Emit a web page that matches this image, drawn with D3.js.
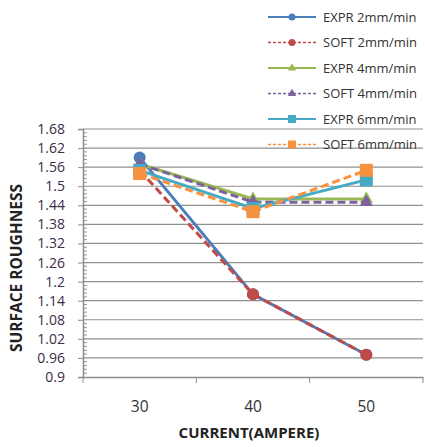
<!DOCTYPE html>
<html>
<head>
<meta charset="utf-8">
<script src="https://cdn.jsdelivr.net/npm/d3@7"></script>
<style>
  body { margin: 0; background: #fff; }
  svg text { font-family: "Open Sans", "Liberation Sans", sans-serif; }
</style>
</head>
<body>
<div id="chart"></div>
<script>
// chart data
let categories = ["30", "40", "50"];
let yTicks = [0.9, 0.96, 1.02, 1.08, 1.14, 1.2, 1.26, 1.32, 1.38, 1.44, 1.5, 1.56, 1.62, 1.68];

let seriesNames = ["EXPR 2mm/min", "SOFT 2mm/min", "EXPR 4mm/min", "SOFT 4mm/min", "EXPR 6mm/min", "SOFT 6mm/min"];
let expr2 = [1.59, 1.16, 0.97];
let soft2 = [1.55, 1.16, 0.97];
let expr4 = [1.57, 1.46, 1.46];
let soft4 = [1.57, 1.45, 1.45];
let expr6 = [1.55, 1.43, 1.52];
let soft6 = [1.54, 1.42, 1.55];

let seriesValues = [expr2, soft2, expr4, soft4, expr6, soft6];
let seriesColors = ["#4a7ebb", "#be4b48", "#98b954", "#7d60a0", "#46aac5", "#f69240"];
let seriesDash = [null, "8,4", null, "8,4", null, "8,4"];
let seriesMarker = ["circle", "circle", "triangle", "triangle", "square", "square"];

let series = seriesNames.map((name, i) => ({
    name: name,
    values: seriesValues[i],
    color: seriesColors[i],
    dash: seriesDash[i],
    marker: seriesMarker[i]
}));

let width = 425, height = 447;
let margin = {top: 129, right: 2, bottom: 70, left: 83};

let svg = d3.select("#chart").append("svg")
    .attr("width", width)
    .attr("height", height);

let x = d3.scaleBand()
    .domain(categories)
    .range([margin.left, width - margin.right]);

let y = d3.scaleLinear()
    .domain([0.9, 1.68])
    .range([height - margin.bottom, margin.top]);

// gridlines
svg.append("g")
    .selectAll("line")
    .data(yTicks.slice(1))
    .enter()
    .append("line")
    .attr("x1", margin.left)
    .attr("x2", width - margin.right)
    .attr("y1", d => y(d))
    .attr("y2", d => y(d))
    .attr("stroke", "#8f8f8f")
    .attr("stroke-width", 1.2);

// minor ticks on y axis
let minorTicks = [];
for (let i = 0; i < yTicks.length - 1; i++) {
    for (let k = 1; k < 5; k++) minorTicks.push(yTicks[i] + k * 0.012);
}
svg.append("g")
    .selectAll("line")
    .data(minorTicks)
    .enter()
    .append("line")
    .attr("x1", margin.left)
    .attr("x2", margin.left + 4)
    .attr("y1", d => y(d))
    .attr("y2", d => y(d))
    .attr("stroke", "#9a9a9a");

// y axis
let yAxis = svg.append("g")
    .attr("transform", `translate(${margin.left},0)`)
    .call(d3.axisLeft(y).tickValues(yTicks).tickSize(5).tickPadding(13)
        .tickFormat(d => d3.format("")(+d.toFixed(2))));
yAxis.select(".domain").attr("stroke", "#8c8c8c").attr("stroke-width", 1.5);
yAxis.selectAll(".tick line").attr("stroke", "#8c8c8c");
yAxis.selectAll("text")
    .attr("font-family", "Liberation Sans, sans-serif")
    .attr("font-size", 14)
    .attr("fill", "#3a2d4a");

// x axis
let xAxis = svg.append("g")
    .attr("transform", `translate(0,${height - margin.bottom})`)
    .call(d3.axisBottom(x).tickSize(0).tickPadding(24));
xAxis.select(".domain").attr("stroke", "#8c8c8c").attr("stroke-width", 1.5);
xAxis.selectAll("text")
    .attr("font-size", 15.5)
    .attr("fill", "#333");

// x ticks between categories
svg.append("g")
    .selectAll("line")
    .data(categories.concat(["end"]))
    .enter()
    .append("line")
    .attr("x1", (d, i) => i < categories.length ? x(d) : x(categories[i - 1]) + x.bandwidth())
    .attr("x2", (d, i) => i < categories.length ? x(d) : x(categories[i - 1]) + x.bandwidth())
    .attr("y1", height - margin.bottom)
    .attr("y2", height - margin.bottom + 6)
    .attr("stroke", "#8c8c8c");

// axis titles
svg.append("text")
    .attr("x", 249)
    .attr("y", 438)
    .attr("text-anchor", "middle")
    .attr("font-size", 15)
    .attr("font-weight", "bold")
    .attr("fill", "#222")
    .text("CURRENT(AMPERE)");

svg.append("text")
    .attr("transform", `translate(22,268) rotate(-90)`)
    .attr("text-anchor", "middle")
    .attr("font-size", 15.5)
    .attr("font-weight", "bold")
    .attr("fill", "#222")
    .text("SURFACE ROUGHNESS");

let line = d3.line()
    .x((d, i) => x(categories[i]) + x.bandwidth() / 2)
    .y(d => y(d));

function drawMarker(g, s, cx, cy) {
    if (s.marker === "circle") {
        g.append("circle").attr("cx", cx).attr("cy", cy).attr("r", 6).attr("fill", s.color);
    } else if (s.marker === "triangle") {
        g.append("path")
            .attr("d", d3.symbol(d3.symbolTriangle, 75)())
            .attr("transform", `translate(${cx},${cy})`)
            .attr("fill", s.color);
    } else {
        g.append("rect").attr("x", cx - 6.5).attr("y", cy - 6.5)
            .attr("width", 13).attr("height", 13).attr("fill", s.color);
    }
}

// series lines and markers
series.forEach(s => {
    let g = svg.append("g");
    g.append("path")
        .attr("d", line(s.values))
        .attr("fill", "none")
        .attr("stroke", s.color)
        .attr("stroke-width", 3)
        .attr("stroke-dasharray", s.dash);
    s.values.forEach((v, i) => {
        drawMarker(g, s, x(categories[i]) + x.bandwidth() / 2, y(v));
    });
});

// legend
let legend = svg.append("g");
series.forEach((s, i) => {
    let ly = 17 + i * 25.5;
    let g = legend.append("g");
    g.append("line")
        .attr("x1", 268).attr("x2", 316)
        .attr("y1", ly).attr("y2", ly)
        .attr("stroke", s.color)
        .attr("stroke-width", s.dash ? 1.5 : 2)
        .attr("stroke-dasharray", s.dash ? "3,2" : null);
    if (s.marker === "circle") {
        g.append("circle").attr("cx", 292).attr("cy", ly).attr("r", 3.5).attr("fill", s.color);
    } else if (s.marker === "triangle") {
        g.append("path").attr("d", d3.symbol(d3.symbolTriangle, 30)())
            .attr("transform", `translate(292,${ly})`).attr("fill", s.color);
    } else {
        g.append("rect").attr("x", 288).attr("y", ly - 4).attr("width", 8).attr("height", 8).attr("fill", s.color);
    }
    g.append("text")
        .attr("x", 323)
        .attr("y", ly + 4.5)
        .attr("font-size", 13)
        .attr("fill", "#333")
        .text(s.name);
});
</script>
</body>
</html>
